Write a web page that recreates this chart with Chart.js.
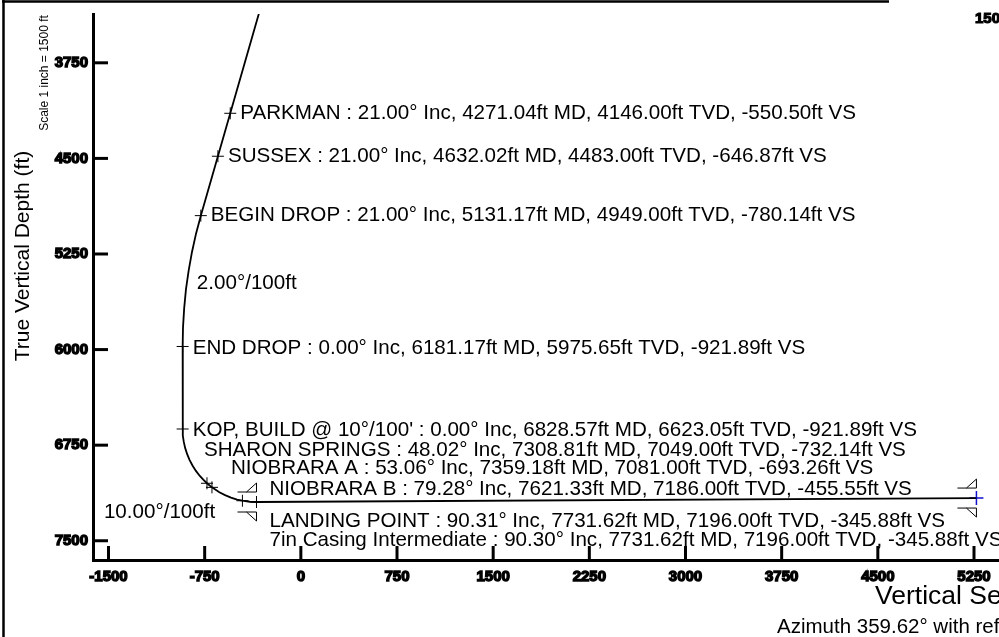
<!DOCTYPE html>
<html>
<head>
<meta charset="utf-8">
<script src="https://cdn.jsdelivr.net/npm/chart.js@4.4.0/dist/chart.umd.min.js"></script>
<style>
  html, body { margin: 0; padding: 0; background: #fff; overflow: hidden; }
  #wrap { position: relative; width: 999px; height: 637px; }
</style>
</head>
<body>
<div id="wrap"><canvas id="chart" width="999" height="637"></canvas></div>
<script>
// Tick labels
var xTicks = [-1500, -750, 0, 750, 1500, 2250, 3000, 3750, 4500, 5250];
var yTicks = [3750, 4500, 5250, 6000, 6750, 7500];

// Well path (vertical section / TVD, ft)
var pathVS  = [-309, -550.50, -646.87, -780.14, -817.5, -849, -875, -896, -910, -919, -921.89,
               -921.89, -919.5, -913.2, -902.4, -887.3, -868.2, -845.1, -818.3, -787.8, -761.1,
               -732.14, -693.26, -635.4, -591.1, -544.9, -497.2, -455.55, -398.9, -345.88, 5269];
var pathTVD = [3300, 4146.00, 4483.00, 4949.00, 5090.5, 5234, 5380, 5528, 5676.5, 5826, 5975.65,
               6623.05, 6673, 6722.5, 6771.4, 6819, 6865.2, 6909.5, 6951.7, 6991.4, 7021.1,
               7049.00, 7081.00, 7119.3, 7142.3, 7161.5, 7176.5, 7186.00, 7193.9, 7196.00, 7165];

// Formation / design points
var markerNames = ['PARKMAN', 'SUSSEX', 'BEGIN DROP', 'END DROP', "KOP, BUILD @ 10\u00b0/100'",
                   'SHARON SPRINGS', 'NIOBRARA A', 'NIOBRARA B', 'LANDING POINT'];
var markerInc = [21.00, 21.00, 21.00, 0.00, 0.00, 48.02, 53.06, 79.28, 90.31];
var markerMD  = [4271.04, 4632.02, 5131.17, 6181.17, 6828.57, 7308.81, 7359.18, 7621.33, 7731.62];
var markerTVD = [4146.00, 4483.00, 4949.00, 5975.65, 6623.05, 7049.00, 7081.00, 7186.00, 7196.00];
var markerVS  = [-550.50, -646.87, -780.14, -921.89, -921.89, -732.14, -693.26, -455.55, -345.88];

// Casing points
var casingNames = ['7in Casing Intermediate', ''];
var casingInc = [90.30, 90.30];
var casingMD  = [7731.62, 0];
var casingTVD = [7196.00, 7165];
var casingVS  = [-345.88, 5269];

// Build / drop rate notes
var rateTexts = ['2.00\u00b0/100ft', '10.00\u00b0/100ft'];
var rateVS  = [-811, -1536];
var rateTVD = [5478, 7276];

// label placement in pixels relative to each marker
var markerLabelOffset = [[10, 0], [10, 0], [10, 0], [10, 2], [10, 1], [-3, -33], [19, -19], [27, -11], [13, 19]];
var casingLabelOffset = [13, 38];

var FONT = '"Liberation Sans", Arial, Helvetica, sans-serif';

function fmt(v) { return v.toFixed(2); }
function pointText(name, inc, md, tvd, vs) {
  return name + ' : ' + fmt(inc) + '\u00b0 Inc, ' + fmt(md) + 'ft MD, ' + fmt(tvd) + 'ft TVD, ' + fmt(vs) + 'ft VS';
}

var pathData = pathVS.map(function(v, i) { return { x: v, y: pathTVD[i] }; });
var markerData = markerVS.map(function(v, i) { return { x: v, y: markerTVD[i] }; });
var endData = [{ x: casingVS[1], y: casingTVD[1] }];

function line(ctx, x1, y1, x2, y2) {
  ctx.beginPath(); ctx.moveTo(x1, y1); ctx.lineTo(x2, y2); ctx.stroke();
}

function drawShoe(ctx, px, py) {
  ctx.lineWidth = 1;
  ctx.strokeStyle = '#000';
  [-1, 1].forEach(function(s) {
    var off = py + s * 10;
    ctx.beginPath();
    ctx.moveTo(px - 19, off);
    ctx.lineTo(px, off);
    ctx.lineTo(px, off + s * 9);
    ctx.lineTo(px - 10, off);
    ctx.stroke();
  });
}

var wellPlugin = {
  id: 'wellPlugin',
  afterDraw: function(chart) {
    var ctx = chart.ctx, xs = chart.scales.x, ys = chart.scales.y, area = chart.chartArea;
    ctx.save();

    // frame
    ctx.strokeStyle = '#000';
    ctx.lineWidth = 2.5;
    line(ctx, 3.5, 0, 3.5, 637);
    line(ctx, 2, 1.5, 889, 1.5);

    // inward ticks
    ctx.lineWidth = 3;
    xs.ticks.forEach(function(t) {
      var px = xs.getPixelForValue(t.value);
      line(ctx, px, area.bottom, px, area.bottom - 14);
    });
    ys.ticks.forEach(function(t) {
      var py = ys.getPixelForValue(t.value);
      line(ctx, area.left, py, area.left + 15, py);
    });

    // x tick labels
    ctx.fillStyle = '#000';
    ctx.font = 'bold 15px ' + FONT;
    ctx.textAlign = 'center';
    ctx.textBaseline = 'middle';
    ctx.lineWidth = 1.4;
    xs.ticks.forEach(function(t) {
      var px = xs.getPixelForValue(t.value);
      ctx.strokeText(String(t.value), px, area.bottom + 17);
      ctx.fillText(String(t.value), px, area.bottom + 17);
    });

    // casing shoes
    casingVS.forEach(function(v, i) {
      drawShoe(ctx, xs.getPixelForValue(v), ys.getPixelForValue(casingTVD[i]));
    });

    // labels
    ctx.font = '20.6px ' + FONT;
    ctx.textAlign = 'left';
    markerNames.forEach(function(n, i) {
      var px = xs.getPixelForValue(markerVS[i]) + markerLabelOffset[i][0];
      var py = ys.getPixelForValue(markerTVD[i]) + markerLabelOffset[i][1];
      ctx.fillText(pointText(n, markerInc[i], markerMD[i], markerTVD[i], markerVS[i]), px, py);
    });
    ctx.fillText(pointText(casingNames[0], casingInc[0], casingMD[0], casingTVD[0], casingVS[0]),
      xs.getPixelForValue(casingVS[0]) + casingLabelOffset[0],
      ys.getPixelForValue(casingTVD[0]) + casingLabelOffset[1]);
    rateTexts.forEach(function(t, i) {
      ctx.fillText(t, xs.getPixelForValue(rateVS[i]), ys.getPixelForValue(rateTVD[i]));
    });

    // axis titles
    ctx.font = '26.5px ' + FONT;
    ctx.fillText('Vertical Section at 359.62\u00b0 (ft)', 875, 597);
    ctx.font = '20.5px ' + FONT;
    ctx.fillText('Azimuth 359.62\u00b0 with reference 0.00 N, 0.00 E', 777, 627);

    ctx.save();
    ctx.translate(23, 256);
    ctx.rotate(-Math.PI / 2);
    ctx.textAlign = 'center';
    ctx.font = '21px ' + FONT;
    ctx.fillText('True Vertical Depth (ft)', 0, 0);
    ctx.restore();

    ctx.save();
    ctx.translate(45, 73);
    ctx.rotate(-Math.PI / 2);
    ctx.textAlign = 'center';
    ctx.font = '12px ' + FONT;
    ctx.fillText('Scale 1 inch = 1500 ft', 0, 0);
    ctx.restore();

    // scale bar number cut at the edge
    ctx.font = 'bold 15px ' + FONT;
    ctx.lineWidth = 1.2;
    ctx.strokeText('1500', 975, 19);
    ctx.fillText('1500', 975, 19);

    ctx.restore();
  }
};

function plainTick(v) { return String(v); }

new Chart(document.getElementById('chart'), {
  type: 'scatter',
  data: {
    datasets: [
      {
        data: pathData,
        showLine: true,
        borderColor: '#000',
        borderWidth: 1.8,
        pointRadius: 0,
        tension: 0
      },
      {
        data: markerData,
        showLine: false,
        pointStyle: 'cross',
        pointRadius: 6,
        borderColor: '#000',
        borderWidth: 1
      },
      {
        data: endData,
        showLine: false,
        pointStyle: 'cross',
        pointRadius: 7,
        borderColor: '#1010d0',
        borderWidth: 1.5
      }
    ]
  },
  options: {
    responsive: false,
    animation: false,
    events: [],
    layout: { autoPadding: false, padding: { top: 12, left: 0, right: 0, bottom: 0 } },
    plugins: { legend: { display: false }, tooltip: { enabled: false } },
    scales: {
      x: {
        type: 'linear',
        min: -1621,
        max: 5445,
        afterFit: function(s) { s.height = 77; },
        afterBuildTicks: function(s) { s.ticks = xTicks.map(function(v) { return { value: v }; }); },
        grid: { display: true, drawOnChartArea: false, drawTicks: false },
        border: { display: true, color: '#000', width: 3 },
        ticks: { display: false }
      },
      y: {
        type: 'linear',
        reverse: true,
        min: 3367,
        max: 7651,
        afterFit: function(s) { s.width = 93; },
        afterBuildTicks: function(s) { s.ticks = yTicks.map(function(v) { return { value: v }; }); },
        grid: { display: true, drawOnChartArea: false, drawTicks: false },
        border: { display: true, color: '#000', width: 3 },
        ticks: {
          padding: 5,
          color: '#000',
          callback: plainTick,
          font: { family: FONT, size: 15, weight: 'bold' },
          textStrokeColor: '#000',
          textStrokeWidth: 1.4,
          autoSkip: false
        }
      }
    }
  },
  plugins: [wellPlugin]
});
</script>
</body>
</html>
